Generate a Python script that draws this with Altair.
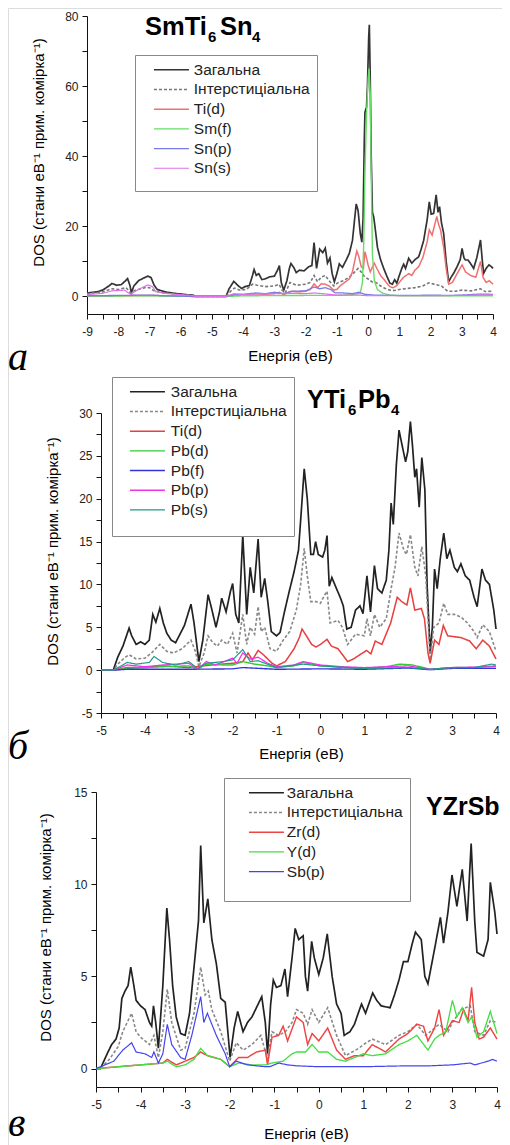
import altair as alt
import pandas as pd

# ---------------- Panel a: SmTi6Sn4 ----------------
A_NAMES = ["Загальна", "Інтерстиціальна", "Ti(d)", "Sm(f)", "Sn(p)", "Sn(s)"]
A_COLORS = ["#333333", "#777777", "#f07070", "#66dd66", "#7a7ae8", "#e070e8"]
A_TOT = [(-9.0,1.0),(-8.7,1.3),(-8.5,1.8),(-8.3,3.0),(-8.2,3.7),(-8.05,3.2),(-7.9,3.4),(-7.8,4.2),(-7.7,5.1),(-7.62,3.0),(-7.58,1.0),(-7.5,3.0),(-7.35,4.5),(-7.2,5.2),(-7.05,5.8),(-6.95,5.4),(-6.85,3.2),(-6.75,2.0),(-6.5,1.3),(-6.2,0.9),(-6.0,0.7),(-5.8,0.5),(-5.6,0.4),(-5.55,0.0),(-4.55,0.0),(-4.45,2.2),(-4.3,4.3),(-4.15,3.0),(-4.05,2.3),(-3.95,2.8),(-3.8,3.1),(-3.7,6.0),(-3.65,7.7),(-3.58,6.0),(-3.5,6.5),(-3.4,4.8),(-3.3,5.0),(-3.15,5.6),(-3.0,5.8),(-2.9,7.5),(-2.84,8.8),(-2.78,4.0),(-2.7,1.8),(-2.6,4.5),(-2.52,8.0),(-2.47,9.4),(-2.38,8.3),(-2.3,6.8),(-2.2,7.5),(-2.05,7.3),(-1.9,8.5),(-1.8,8.8),(-1.73,15.4),(-1.65,8.0),(-1.55,13.5),(-1.45,12.5),(-1.37,13.8),(-1.3,9.5),(-1.22,11.0),(-1.15,6.5),(-1.08,4.2),(-1.0,6.5),(-0.92,9.3),(-0.82,8.3),(-0.7,10.4),(-0.6,12.3),(-0.5,16.0),(-0.42,23.0),(-0.38,26.4),(-0.32,24.5),(-0.25,18.0),(-0.2,15.5),(-0.16,22.0),(-0.12,45.0),(-0.1,52.5),(-0.05,54.0),(-0.02,60.0),(0.02,74.0),(0.04,77.5),(0.07,62.0),(0.1,40.0),(0.14,24.0),(0.18,22.7),(0.22,20.0),(0.3,14.0),(0.4,10.5),(0.5,8.0),(0.6,5.8),(0.7,3.8),(0.78,3.5),(0.85,4.8),(0.92,3.8),(1.0,6.0),(1.08,8.0),(1.14,9.2),(1.2,8.0),(1.3,10.9),(1.4,9.5),(1.5,10.5),(1.62,11.3),(1.7,13.5),(1.78,16.0),(1.89,21.8),(1.96,27.0),(2.02,23.5),(2.1,23.7),(2.18,29.0),(2.24,24.0),(2.29,25.6),(2.35,21.0),(2.42,18.0),(2.5,10.0),(2.58,4.2),(2.66,5.5),(2.74,6.6),(2.85,8.5),(2.95,10.5),(3.01,13.7),(3.07,11.0),(3.12,10.4),(3.2,10.4),(3.28,9.4),(3.38,8.0),(3.48,11.0),(3.6,16.1),(3.66,10.0),(3.7,6.6),(3.78,8.0),(3.87,9.0),(3.95,8.5),(4.0,8.0)]
A_INT = [(-9.0,0.8),(-8.5,1.3),(-8.2,2.2),(-8.0,2.0),(-7.75,2.5),(-7.6,1.0),(-7.45,1.8),(-7.1,2.6),(-7.0,2.5),(-6.85,1.6),(-6.6,1.1),(-6.2,0.7),(-5.8,0.4),(-5.55,0.0),(-4.55,0.0),(-4.4,1.5),(-4.28,2.4),(-4.1,1.8),(-3.9,2.0),(-3.7,3.5),(-3.55,3.2),(-3.3,2.8),(-3.0,3.0),(-2.85,3.5),(-2.75,1.8),(-2.65,1.0),(-2.5,4.0),(-2.3,3.2),(-2.0,3.5),(-1.85,4.0),(-1.73,6.0),(-1.62,4.2),(-1.5,5.5),(-1.37,6.0),(-1.25,4.5),(-1.1,3.0),(-0.95,4.0),(-0.8,4.5),(-0.6,5.5),(-0.45,6.8),(-0.32,8.0),(-0.22,7.0),(-0.1,5.5),(0.0,5.0),(0.12,4.2),(0.25,4.0),(0.4,3.0),(0.55,2.3),(0.7,1.8),(0.85,1.7),(1.0,2.0),(1.25,2.3),(1.5,2.5),(1.75,3.0),(1.95,3.9),(2.15,3.4),(2.35,3.0),(2.55,1.5),(2.8,1.5),(3.0,1.8),(3.3,1.6),(3.6,2.2),(3.75,1.4),(4.0,1.5)]
A_TID = [(-9.0,0.1),(-8.0,0.2),(-7.0,0.3),(-6.5,0.2),(-5.55,0.0),(-4.55,0.0),(-4.3,0.4),(-4.0,0.4),(-3.65,0.8),(-3.3,0.6),(-3.0,0.8),(-2.84,1.2),(-2.7,0.5),(-2.47,1.5),(-2.2,1.3),(-2.0,1.5),(-1.85,2.0),(-1.73,3.6),(-1.62,2.5),(-1.5,3.6),(-1.37,3.5),(-1.25,3.0),(-1.1,1.8),(-1.0,2.0),(-0.9,3.0),(-0.75,4.0),(-0.6,5.0),(-0.5,7.0),(-0.42,10.5),(-0.36,13.0),(-0.3,11.5),(-0.22,8.5),(-0.15,8.0),(-0.1,12.8),(-0.05,11.0),(0.0,9.0),(0.07,7.0),(0.12,8.0),(0.2,9.5),(0.28,8.0),(0.4,6.0),(0.5,5.0),(0.6,3.8),(0.7,2.8),(0.8,2.5),(0.9,3.0),(1.0,4.0),(1.14,5.5),(1.3,6.5),(1.4,6.0),(1.5,7.5),(1.62,8.5),(1.75,11.0),(1.89,15.5),(1.96,19.0),(2.05,17.5),(2.12,20.0),(2.2,22.8),(2.26,20.5),(2.32,19.0),(2.42,14.0),(2.5,8.0),(2.58,3.5),(2.7,4.0),(2.85,6.5),(3.01,9.0),(3.12,7.0),(3.28,6.0),(3.45,5.5),(3.6,10.0),(3.68,5.5),(3.78,4.0),(3.88,4.5),(4.0,3.5)]
A_SMF = [(-9.0,0.1),(-7.0,0.2),(-5.55,0.0),(-4.55,0.0),(-4.0,0.2),(-2.0,0.3),(-1.0,0.3),(-0.5,0.5),(-0.25,1.0),(-0.18,4.0),(-0.14,15.0),(-0.1,35.0),(-0.05,52.0),(0.0,62.0),(0.03,65.0),(0.07,58.0),(0.1,35.0),(0.14,12.0),(0.2,4.5),(0.3,2.0),(0.45,1.0),(0.7,0.4),(1.0,0.2),(2.0,0.2),(3.0,0.2),(4.0,0.2)]
A_SNP = [(-9.0,0.2),(-8.0,0.3),(-7.0,0.4),(-6.5,0.2),(-5.55,0.0),(-4.55,0.0),(-4.3,0.5),(-4.0,0.6),(-3.6,1.0),(-3.3,0.8),(-3.0,1.2),(-2.7,0.8),(-2.4,1.5),(-2.0,1.6),(-1.73,2.7),(-1.55,2.2),(-1.37,2.5),(-1.2,2.0),(-1.05,1.0),(-0.8,1.0),(-0.5,0.8),(-0.3,1.2),(-0.1,0.6),(0.2,0.4),(0.7,0.3),(1.5,0.3),(2.0,0.4),(2.6,0.3),(3.0,0.4),(3.6,0.7),(4.0,0.6)]
A_SNS = [(-9.0,0.5),(-8.5,0.9),(-8.2,1.6),(-7.8,1.8),(-7.6,0.6),(-7.4,1.8),(-7.05,3.3),(-6.9,2.8),(-6.8,1.4),(-6.5,0.9),(-6.0,0.5),(-5.6,0.3),(-5.55,0.0),(-4.55,0.0),(-4.3,0.8),(-4.0,0.6),(-3.6,0.7),(-3.0,0.8),(-2.5,0.9),(-2.0,0.8),(-1.7,1.0),(-1.0,0.4),(-0.3,0.4),(0.0,0.2),(1.0,0.2),(2.0,0.2),(3.0,0.3),(4.0,0.5)]

# ---------------- Panel b: YTi6Pb4 ----------------
B_NAMES = ["Загальна", "Інтерстиціальна", "Ti(d)", "Pb(d)", "Pb(f)", "Pb(p)", "Pb(s)"]
B_COLORS = ["#222222", "#888888", "#e84040", "#33cc33", "#3333dd", "#ee33ee", "#229988"]
B_TOT = [(-5.0,0.0),(-4.72,0.0),(-4.62,1.5),(-4.5,2.8),(-4.42,4.0),(-4.36,4.9),(-4.3,4.0),(-4.2,3.0),(-4.1,3.3),(-4.0,3.0),(-3.9,3.5),(-3.82,6.5),(-3.75,5.6),(-3.66,7.2),(-3.58,5.5),(-3.5,4.3),(-3.4,3.5),(-3.3,3.2),(-3.2,4.2),(-3.1,5.2),(-2.95,7.7),(-2.88,5.5),(-2.77,1.0),(-2.68,3.5),(-2.56,8.8),(-2.48,7.2),(-2.38,5.0),(-2.3,6.8),(-2.25,8.4),(-2.15,6.8),(-2.05,9.2),(-2.0,10.1),(-1.93,6.5),(-1.86,5.5),(-1.77,15.8),(-1.68,6.5),(-1.6,12.0),(-1.52,9.0),(-1.42,15.3),(-1.35,8.5),(-1.27,10.7),(-1.2,8.0),(-1.12,4.5),(-1.0,4.0),(-0.92,4.4),(-0.82,6.8),(-0.72,9.0),(-0.6,11.5),(-0.5,14.0),(-0.43,19.0),(-0.37,23.5),(-0.3,20.0),(-0.22,13.5),(-0.16,13.5),(-0.11,15.0),(-0.05,13.5),(0.05,13.2),(0.1,14.0),(0.15,15.7),(0.2,9.8),(0.26,10.8),(0.35,9.7),(0.45,8.5),(0.52,7.5),(0.6,4.8),(0.7,5.0),(0.8,7.0),(0.9,7.5),(0.97,6.6),(1.06,11.0),(1.14,6.8),(1.23,12.2),(1.3,9.5),(1.4,9.0),(1.5,10.5),(1.56,14.0),(1.61,19.5),(1.66,17.0),(1.73,24.0),(1.79,28.0),(1.87,26.0),(1.94,24.3),(1.99,25.5),(2.05,29.0),(2.1,26.0),(2.15,22.5),(2.19,23.5),(2.25,19.0),(2.31,24.8),(2.38,21.0),(2.43,10.0),(2.5,2.0),(2.55,5.0),(2.6,11.8),(2.66,9.5),(2.73,13.0),(2.81,16.0),(2.88,13.0),(2.95,14.0),(3.05,12.0),(3.12,11.5),(3.2,12.4),(3.3,11.0),(3.4,10.5),(3.5,8.5),(3.57,7.4),(3.68,11.8),(3.76,10.5),(3.85,10.0),(3.95,7.0),(4.0,4.8)]
B_INT = [(-5.0,0.0),(-4.72,0.0),(-4.6,0.8),(-4.45,1.5),(-4.36,1.8),(-4.2,1.3),(-4.0,1.4),(-3.85,2.0),(-3.66,3.0),(-3.5,2.2),(-3.35,2.0),(-3.15,2.5),(-2.95,3.5),(-2.85,2.2),(-2.77,0.4),(-2.65,2.0),(-2.56,4.0),(-2.45,3.2),(-2.35,2.8),(-2.25,3.5),(-2.12,3.0),(-2.0,4.3),(-1.9,2.0),(-1.77,6.5),(-1.68,3.0),(-1.6,5.0),(-1.5,4.2),(-1.42,7.4),(-1.35,4.5),(-1.27,5.0),(-1.15,2.5),(-1.0,2.2),(-0.85,3.5),(-0.7,4.5),(-0.55,7.0),(-0.45,10.0),(-0.37,14.2),(-0.3,11.0),(-0.22,8.0),(-0.1,8.0),(0.0,7.8),(0.1,8.8),(0.15,9.2),(0.22,5.5),(0.4,5.8),(0.5,5.0),(0.62,3.0),(0.8,4.2),(1.0,4.0),(1.06,6.0),(1.14,4.0),(1.23,6.5),(1.35,5.0),(1.5,6.0),(1.61,9.5),(1.7,12.0),(1.79,16.0),(1.9,14.0),(1.96,13.5),(2.05,15.8),(2.15,12.0),(2.22,11.0),(2.31,14.4),(2.4,11.0),(2.5,1.2),(2.58,5.0),(2.7,5.5),(2.81,7.8),(2.9,6.5),(3.05,6.5),(3.2,6.2),(3.35,5.5),(3.5,4.5),(3.57,3.8),(3.7,5.3),(3.85,4.5),(4.0,2.2)]
B_TID = [(-5.0,0.0),(-4.72,0.0),(-4.4,0.3),(-4.0,0.3),(-3.6,0.5),(-3.0,0.3),(-2.5,0.6),(-2.0,0.8),(-1.77,1.0),(-1.65,2.0),(-1.55,1.2),(-1.42,2.3),(-1.3,1.8),(-1.1,0.8),(-1.0,0.5),(-0.8,1.0),(-0.6,2.5),(-0.48,3.8),(-0.42,4.8),(-0.32,4.0),(-0.2,3.0),(-0.1,2.7),(0.0,3.0),(0.15,3.6),(0.25,2.8),(0.4,2.5),(0.62,1.0),(0.75,1.3),(0.9,1.8),(1.05,2.3),(1.15,1.9),(1.25,3.4),(1.4,3.0),(1.6,5.5),(1.75,8.5),(1.85,8.0),(1.97,7.6),(2.05,9.6),(2.15,7.0),(2.3,7.2),(2.37,6.0),(2.45,2.0),(2.5,0.8),(2.6,3.5),(2.7,3.0),(2.8,5.2),(2.9,4.0),(3.2,3.8),(3.4,3.4),(3.55,2.5),(3.7,3.5),(3.85,2.8),(4.0,1.3)]
B_PBD = [(-5.0,0.0),(-4.72,0.0),(-4.4,0.2),(-4.0,0.3),(-3.6,0.4),(-3.0,0.5),(-2.8,0.1),(-2.6,0.7),(-2.2,0.6),(-2.0,0.6),(-1.77,1.0),(-1.5,0.7),(-1.2,0.5),(-1.0,0.3),(-0.6,0.5),(-0.4,0.9),(0.0,0.5),(0.5,0.3),(1.0,0.2),(1.5,0.4),(1.8,0.7),(2.1,0.6),(2.5,0.1),(3.0,0.3),(3.5,0.3),(4.0,0.5)]
B_PBF = [(-5.0,0.0),(-4.72,0.0),(-4.4,0.1),(-3.0,0.1),(-2.0,0.15),(-1.77,0.3),(-1.0,0.1),(0.0,0.15),(1.0,0.1),(2.0,0.25),(2.5,0.05),(3.0,0.2),(4.0,0.2)]
B_PBP = [(-5.0,0.0),(-4.72,0.0),(-4.4,0.6),(-4.0,0.4),(-3.6,0.6),(-3.0,0.8),(-2.8,0.1),(-2.6,1.0),(-2.4,0.6),(-2.2,1.0),(-2.0,1.4),(-1.9,0.8),(-1.77,2.0),(-1.6,1.3),(-1.42,1.5),(-1.2,0.8),(-1.0,0.4),(-0.6,0.6),(-0.4,1.0),(0.0,0.6),(0.5,0.4),(1.0,0.3),(2.0,0.5),(2.5,0.1),(3.0,0.3),(4.0,0.4)]
B_PBS = [(-5.0,0.0),(-4.72,0.0),(-4.4,0.9),(-4.2,0.7),(-3.9,0.9),(-3.79,1.6),(-3.6,0.9),(-3.3,0.6),(-3.0,1.0),(-2.8,0.2),(-2.6,0.8),(-2.2,1.0),(-2.0,1.2),(-1.77,2.4),(-1.6,1.0),(-1.42,1.1),(-1.0,0.3),(-0.4,0.7),(0.0,0.5),(1.0,0.2),(2.0,0.3),(2.5,0.1),(3.0,0.3),(3.5,0.3),(3.9,0.7),(4.0,0.6)]

# ---------------- Panel c: YZrSb ----------------
C_NAMES = ["Загальна", "Інтерстиціальна", "Zr(d)", "Y(d)", "Sb(p)"]
C_COLORS = ["#222222", "#888888", "#ee4444", "#44dd44", "#4444ee"]
C_TOT = [(-5.0,0.0),(-4.9,0.0),(-4.75,0.8),(-4.65,1.3),(-4.55,1.6),(-4.48,2.2),(-4.42,3.8),(-4.35,4.2),(-4.28,4.5),(-4.22,5.5),(-4.15,4.5),(-4.1,3.7),(-4.0,3.4),(-3.9,3.2),(-3.8,2.5),(-3.75,2.3),(-3.71,3.4),(-3.66,2.5),(-3.6,1.1),(-3.5,4.5),(-3.41,8.7),(-3.35,7.0),(-3.28,4.5),(-3.2,2.8),(-3.1,1.9),(-3.0,1.8),(-2.9,3.0),(-2.8,5.5),(-2.7,8.0),(-2.65,12.1),(-2.58,7.9),(-2.49,9.2),(-2.4,7.0),(-2.3,5.7),(-2.2,3.8),(-2.1,3.6),(-1.99,0.6),(-1.9,2.2),(-1.82,3.1),(-1.7,2.0),(-1.6,2.5),(-1.5,2.8),(-1.4,3.3),(-1.28,3.9),(-1.2,2.5),(-1.15,0.8),(-1.08,3.5),(-1.02,4.8),(-0.95,4.4),(-0.85,4.5),(-0.76,5.4),(-0.7,3.9),(-0.6,6.0),(-0.53,7.6),(-0.45,7.0),(-0.35,7.2),(-0.3,5.0),(-0.25,4.2),(-0.16,6.9),(-0.1,6.0),(0.0,5.1),(0.1,6.0),(0.19,7.3),(0.3,5.0),(0.4,3.5),(0.5,3.0),(0.57,1.8),(0.7,2.0),(0.8,2.4),(0.9,3.1),(0.96,3.5),(1.05,3.0),(1.21,4.1),(1.3,3.7),(1.4,3.4),(1.6,3.3),(1.7,4.0),(1.8,4.8),(1.9,5.8),(2.0,5.8),(2.1,6.8),(2.17,7.4),(2.3,7.0),(2.38,5.0),(2.45,4.6),(2.6,6.5),(2.73,8.2),(2.8,6.8),(2.9,8.5),(2.99,10.5),(3.1,8.8),(3.22,10.8),(3.33,8.0),(3.42,12.2),(3.5,8.0),(3.55,6.3),(3.7,6.1),(3.8,7.0),(3.85,10.1),(3.95,8.5),(4.0,7.3)]
C_INT = [(-5.0,0.0),(-4.9,0.0),(-4.7,0.5),(-4.5,1.2),(-4.4,2.0),(-4.2,3.0),(-4.1,2.0),(-4.0,1.7),(-3.8,1.3),(-3.7,1.8),(-3.6,0.6),(-3.5,2.0),(-3.4,4.3),(-3.3,2.5),(-3.1,1.0),(-3.0,1.1),(-2.8,3.0),(-2.65,5.5),(-2.55,4.0),(-2.48,4.2),(-2.4,3.2),(-2.2,2.0),(-2.0,0.4),(-1.85,1.4),(-1.7,1.0),(-1.5,1.3),(-1.3,1.8),(-1.15,0.5),(-1.05,2.0),(-0.9,1.8),(-0.75,2.0),(-0.6,2.5),(-0.5,3.2),(-0.35,3.0),(-0.25,2.4),(-0.15,3.2),(0.0,2.5),(0.2,3.3),(0.4,1.8),(0.6,0.7),(0.9,1.1),(1.0,1.3),(1.2,1.6),(1.5,1.3),(1.8,1.8),(2.0,2.0),(2.2,2.4),(2.4,1.8),(2.7,2.4),(2.9,2.0),(3.0,2.5),(3.2,3.2),(3.4,3.4),(3.5,2.0),(3.7,1.8),(3.85,2.6),(4.0,2.5)]
C_ZRD = [(-5.0,0.0),(-4.5,0.1),(-4.0,0.2),(-3.5,0.3),(-3.4,0.5),(-3.2,0.2),(-3.0,0.4),(-2.8,0.6),(-2.65,0.9),(-2.5,0.7),(-2.2,0.5),(-2.0,0.1),(-1.8,0.6),(-1.6,0.6),(-1.4,0.9),(-1.2,1.0),(-1.15,0.2),(-1.05,1.7),(-0.9,1.8),(-0.8,2.3),(-0.7,1.5),(-0.5,2.8),(-0.35,2.5),(-0.25,1.3),(-0.15,1.9),(0.0,1.5),(0.2,2.2),(0.4,1.0),(0.6,0.5),(0.8,0.7),(1.0,0.7),(1.2,1.3),(1.5,0.9),(1.8,1.6),(2.0,1.9),(2.2,2.4),(2.35,2.3),(2.45,1.5),(2.6,2.2),(2.7,3.2),(2.8,1.8),(3.0,2.6),(3.15,2.5),(3.25,3.2),(3.35,2.6),(3.43,4.4),(3.5,2.5),(3.6,1.6),(3.7,1.7),(3.85,2.2),(4.0,1.6)]
C_YD = [(-5.0,0.0),(-4.5,0.1),(-4.0,0.2),(-3.5,0.3),(-3.4,0.4),(-3.2,0.1),(-3.0,0.2),(-2.8,0.5),(-2.65,1.1),(-2.5,0.7),(-2.2,0.5),(-2.0,0.1),(-1.8,0.3),(-1.5,0.2),(-1.2,0.2),(-1.05,0.3),(-0.8,0.4),(-0.6,0.8),(-0.5,0.9),(-0.3,0.9),(-0.15,1.3),(0.0,0.9),(0.2,0.9),(0.4,0.5),(0.6,0.4),(0.8,0.6),(1.0,0.8),(1.2,0.7),(1.5,0.8),(1.8,1.3),(2.0,1.5),(2.2,1.8),(2.45,1.0),(2.6,1.6),(2.7,1.8),(2.85,2.0),(3.0,3.7),(3.1,2.8),(3.22,3.3),(3.35,2.5),(3.43,2.8),(3.55,1.7),(3.7,2.0),(3.85,3.1),(4.0,1.9)]
C_SBP = [(-5.0,0.0),(-4.8,0.2),(-4.6,0.4),(-4.4,1.0),(-4.2,1.4),(-4.1,0.9),(-3.9,0.8),(-3.75,0.6),(-3.7,0.9),(-3.6,0.3),(-3.5,0.8),(-3.4,2.4),(-3.3,1.3),(-3.1,0.6),(-3.0,0.5),(-2.85,1.8),(-2.65,3.9),(-2.58,2.5),(-2.5,3.0),(-2.3,1.8),(-2.1,0.8),(-2.0,0.1),(-1.85,0.4),(-1.6,0.2),(-1.2,0.1),(-1.1,0.1),(-0.9,0.3),(-0.7,0.2),(-0.5,0.15),(0.0,0.1),(1.0,0.1),(2.0,0.15),(2.5,0.15),(3.0,0.2),(3.4,0.3),(3.5,0.2),(3.8,0.4),(3.9,0.5),(4.0,0.4)]

X_TITLE = "Енергія (еВ)"
Y_TITLE = "DOS (стани еВ⁻¹ прим. комірка⁻¹)"

FONT = "Liberation Sans"
W, H = 494, 1137


def frame(names, series):
    rows = []
    for k, (name, pts) in enumerate(zip(names, series)):
        for e, v in pts:
            rows.append({"E": e, "DOS": v, "series": name, "k": k})
    return pd.DataFrame(rows)


def panel(df, names, colors, xdom, xr, ydom, yr, yvals, ymod, legx, legy,
          ytx, yty, xtx, xty, leg_extra, sym_off, lab_off):
    dashes = [[1, 0] if n != "Інтерстиціальна" else [3, 2] for n in names]
    widths = [1.7 if n == "Загальна" else 1.2 for n in names]
    xvals = [xdom[0] + 0.5 * i for i in range(int((xdom[1] - xdom[0]) * 2) + 1)]
    leg = alt.Legend(orient="none", legendX=legx, legendY=legy, title=".",
                     titleOrient="bottom", titleFontSize=leg_extra - 3, titlePadding=3,
                     titleColor="white",
                     symbolType="M-3,0H3", symbolSize=136, symbolStrokeWidth=1.5,
                     labelFont=FONT, labelFontSize=15.5, labelColor="#222",
                     strokeColor="#888", fillColor="white", padding=7,
                     rowPadding=2.7, symbolOffset=sym_off, labelOffset=lab_off, labelLimit=300)
    return alt.Chart(df).mark_line(clip=False).encode(
        x=alt.X("E:Q", scale=alt.Scale(domain=xdom, range=xr, nice=False, zero=False),
                axis=alt.Axis(orient="bottom", offset=yr[0] - H, values=xvals,
                              labelExpr="datum.value % 1 == 0 ? '' + datum.value : ''",
                              title=X_TITLE, titleX=xtx, titleY=xty, titleBaseline="middle",
                              titleFont=FONT, titleFontSize=15, titleFontWeight="normal",
                              labelFont=FONT, labelFontSize=12, labelColor="#222",
                              tickSize=5, labelPadding=7, grid=False,
                              domainColor="#111", tickColor="#111", labelFlush=False)),
        y=alt.Y("DOS:Q", scale=alt.Scale(domain=ydom, range=yr, nice=False, zero=False),
                axis=alt.Axis(orient="left", offset=-xr[0], values=yvals,
                              labelExpr=f"datum.value % {ymod} == 0 ? '' + datum.value : ''",
                              title=Y_TITLE, titleX=ytx, titleY=yty, titleBaseline="middle",
                              titleAngle=-90, titleAlign="center",
                              titleFont=FONT, titleFontSize=15, titleFontWeight="normal",
                              labelFont=FONT, labelFontSize=12, labelColor="#222",
                              tickSize=5, labelPadding=4, grid=False,
                              domainColor="#111", tickColor="#111", labelFlush=False)),
        color=alt.Color("series:N", scale=alt.Scale(domain=names, range=colors), legend=leg),
        strokeDash=alt.StrokeDash("series:N", scale=alt.Scale(domain=names, range=dashes), legend=leg),
        strokeWidth=alt.StrokeWidth("series:N", scale=alt.Scale(domain=names, range=widths), legend=None),
        order="E:Q",
    )


def label(text, x, y, size, weight="normal", style="normal", font=FONT):
    return alt.Chart(pd.DataFrame({"t": [text]})).mark_text(
        align="left", baseline="alphabetic", fontSize=size, fontWeight=weight,
        fontStyle=style, font=font, color="black"
    ).encode(x=alt.value(x), y=alt.value(y), text="t:N")


dfa = frame(A_NAMES, [A_TOT, A_INT, A_TID, A_SMF, A_SNP, A_SNS])
dfb = frame(B_NAMES, [B_TOT, B_INT, B_TID, B_PBD, B_PBF, B_PBP, B_PBS])
dfc = frame(C_NAMES, [C_TOT, C_INT, C_ZRD, C_YD, C_SBP])

pa = panel(dfa, A_NAMES, A_COLORS, [-9, 4], [79, 485], [-5, 80], [306, 8],
           list(range(0, 81, 10)), 20, 127, 47, -49, 144, 282, 41, 7, 21.7, 14.6)
pb = panel(dfb, B_NAMES, B_COLORS, [-5, 4], [93, 488], [-5, 30], [705, 405],
           [-5 + 2.5 * i for i in range(15)], 5, 104, 369, -49, 543, 293, 40, 11, 20.7, 15.6)
pc = panel(dfc, C_NAMES, C_COLORS, [-5, 4], [88, 489], [-1, 15], [1079, 784],
           [2.5 * i for i in range(7)], 5, 216, 770, -51, 919, 298, 46, 15, 27.7, 12.6)

T = 25.5
S = 15
chart = alt.layer(
    pa, pb, pc,
    label("SmTi", 137, 27, T, weight="bold"),
    label("6", 200, 34, S, weight="bold"),
    label("Sn", 212, 27, T, weight="bold"),
    label("4", 244, 34, S, weight="bold"),
    label("YTi", 299, 400, T, weight="bold"),
    label("6", 340, 407, S, weight="bold"),
    label("Pb", 350, 400, T, weight="bold"),
    label("4", 383, 407, S, weight="bold"),
    label("YZrSb", 418, 807, 25, weight="bold"),
    label("а", 0, 362, 40, style="italic", font="Liberation Serif"),
    label("б", 0, 751, 40, style="italic", font="Liberation Serif"),
    label("в", 0, 1128, 40, style="italic", font="Liberation Serif"),
).resolve_scale(
    x="independent", y="independent", color="independent",
    strokeDash="independent", strokeWidth="independent"
).properties(
    width=W, height=H, autosize="none", padding=0
).configure_view(stroke=None).configure(background="white")

chart.save("out.html", embed_options={"renderer": "svg", "actions": False})
